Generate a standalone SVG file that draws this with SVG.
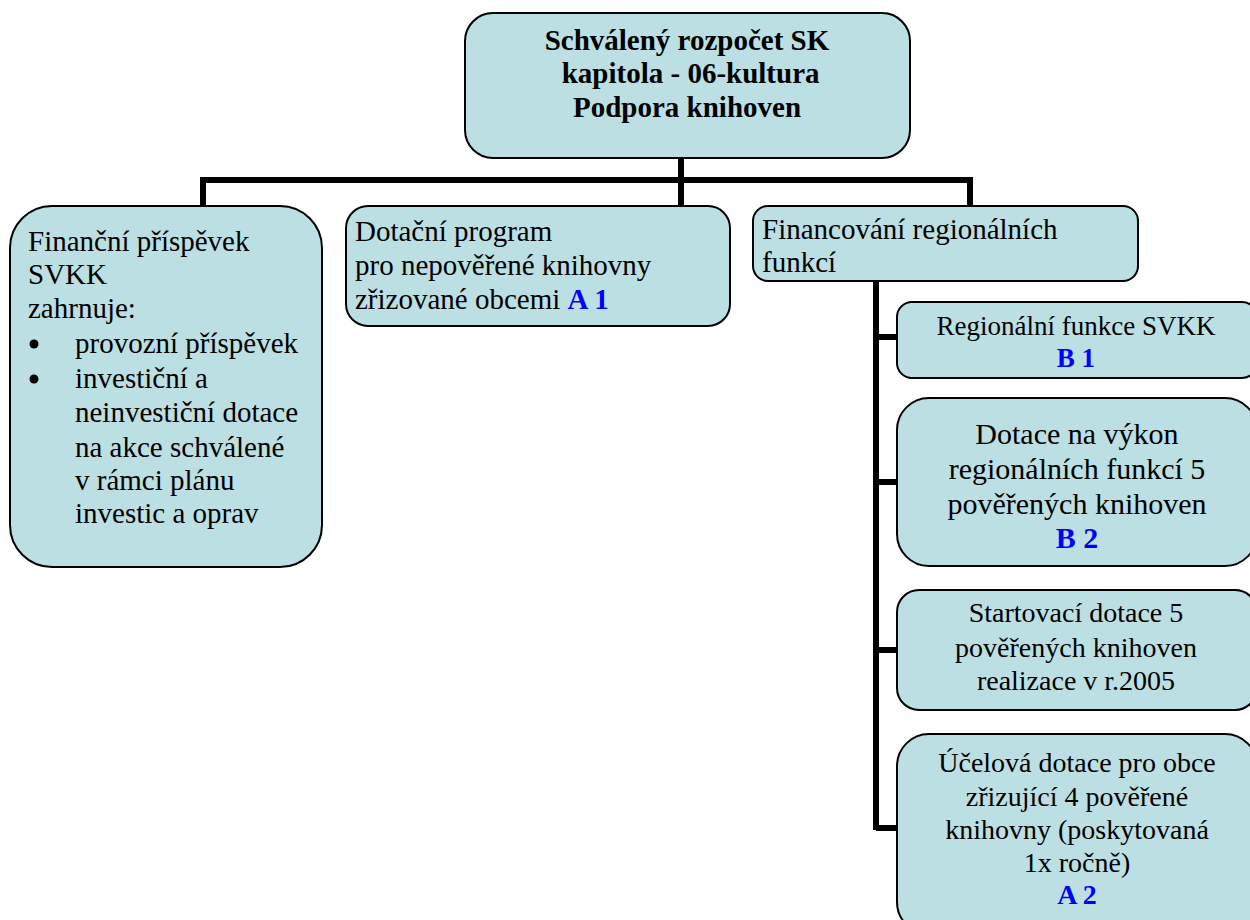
<svg xmlns="http://www.w3.org/2000/svg" width="1250" height="920" viewBox="0 0 1250 920">
<style>
.box{fill:#BBDFE3;stroke:#000;stroke-width:2}
.t{font-family:"Liberation Serif","Times New Roman",serif;fill:#000}
.b{font-weight:bold}
.blue{fill:#0000FF;font-weight:bold}
.c{text-anchor:middle}
.ln{stroke:#000;stroke-width:6;fill:none}
</style>
<rect width="1250" height="920" fill="#fff"/>
<g id="connectors">
<path class="ln" d="M681,158 V206 M203,206 V180 H970 V206 M876,281 V830 M876,337 H898 M876,482 H898 M876,650 H898 M876,828 H898"/>
</g>
<g id="n-root">
<rect class="box" x="465" y="13" width="445" height="145" rx="28"/>
<text class="t b c" font-family="Liberation Serif, serif" font-size="29" x="687"><tspan x="687" y="50">Schválený rozpočet SK</tspan><tspan x="687" y="83"> kapitola - 06-kultura</tspan><tspan x="687" y="117">Podpora knihoven</tspan></text>
</g>
<g id="n-fin">
<rect class="box" x="10" y="206" width="312" height="361" rx="42"/>
<text class="t" font-family="Liberation Serif, serif" font-size="29"><tspan x="28" y="251">Finanční příspěvek</tspan><tspan x="28" y="284">SVKK</tspan><tspan x="28" y="318">zahrnuje:</tspan><tspan x="75" y="353">provozní příspěvek</tspan><tspan x="75" y="388">investiční a</tspan><tspan x="75" y="422">neinvestiční dotace</tspan><tspan x="75" y="457">na akce schválené</tspan><tspan x="75" y="490">v rámci plánu</tspan><tspan x="75" y="523">investic a oprav</tspan></text>
<circle cx="34" cy="344" r="4.5" fill="#000"/>
<circle cx="34" cy="379" r="4.5" fill="#000"/>
</g>
<g id="n-dot">
<rect class="box" x="346" y="206" width="384" height="120" rx="22"/>
<text class="t" font-family="Liberation Serif, serif" font-size="29"><tspan x="355" y="241">Dotační program</tspan><tspan x="355" y="275">pro nepověřené knihovny</tspan><tspan x="355" y="309">zřizované obcemi <tspan class="blue">A 1</tspan></tspan></text>
</g>
<g id="n-reg">
<rect class="box" x="753" y="206" width="385" height="75" rx="15"/>
<text class="t" font-family="Liberation Serif, serif" font-size="29"><tspan x="762" y="239">Financování regionálních</tspan><tspan x="762" y="272">funkcí</tspan></text>
</g>
<g id="n-b1">
<rect class="box" x="897" y="302" width="360" height="76" rx="15"/>
<text class="t c" font-family="Liberation Serif, serif" font-size="27"><tspan x="1076" y="335">Regionální funkce SVKK</tspan><tspan class="blue" x="1076" y="367">B 1</tspan></text>
</g>
<g id="n-b2">
<rect class="box" x="897" y="398" width="360" height="168" rx="32"/>
<text class="t c" font-family="Liberation Serif, serif" font-size="30"><tspan x="1077" y="444">Dotace na výkon</tspan><tspan x="1077" y="479">regionálních funkcí 5</tspan><tspan x="1077" y="514">pověřených knihoven</tspan><tspan class="blue" x="1077" y="548">B 2</tspan></text>
</g>
<g id="n-start">
<rect class="box" x="897" y="590" width="360" height="120" rx="22"/>
<text class="t c" font-family="Liberation Serif, serif" font-size="28"><tspan x="1076" y="622">Startovací dotace 5</tspan><tspan x="1076" y="657">pověřených knihoven</tspan><tspan x="1076" y="690">realizace v r.2005</tspan></text>
</g>
<g id="n-a2">
<rect class="box" x="897" y="734" width="360" height="200" rx="32"/>
<text class="t c" font-family="Liberation Serif, serif" font-size="28"><tspan x="1077" y="772">Účelová dotace pro obce</tspan><tspan x="1077" y="806">zřizující 4 pověřené</tspan><tspan x="1077" y="839">knihovny (poskytovaná</tspan><tspan x="1077" y="872">1x ročně)</tspan><tspan class="blue" x="1077" y="904">A 2</tspan></text>
</g>
</svg>
